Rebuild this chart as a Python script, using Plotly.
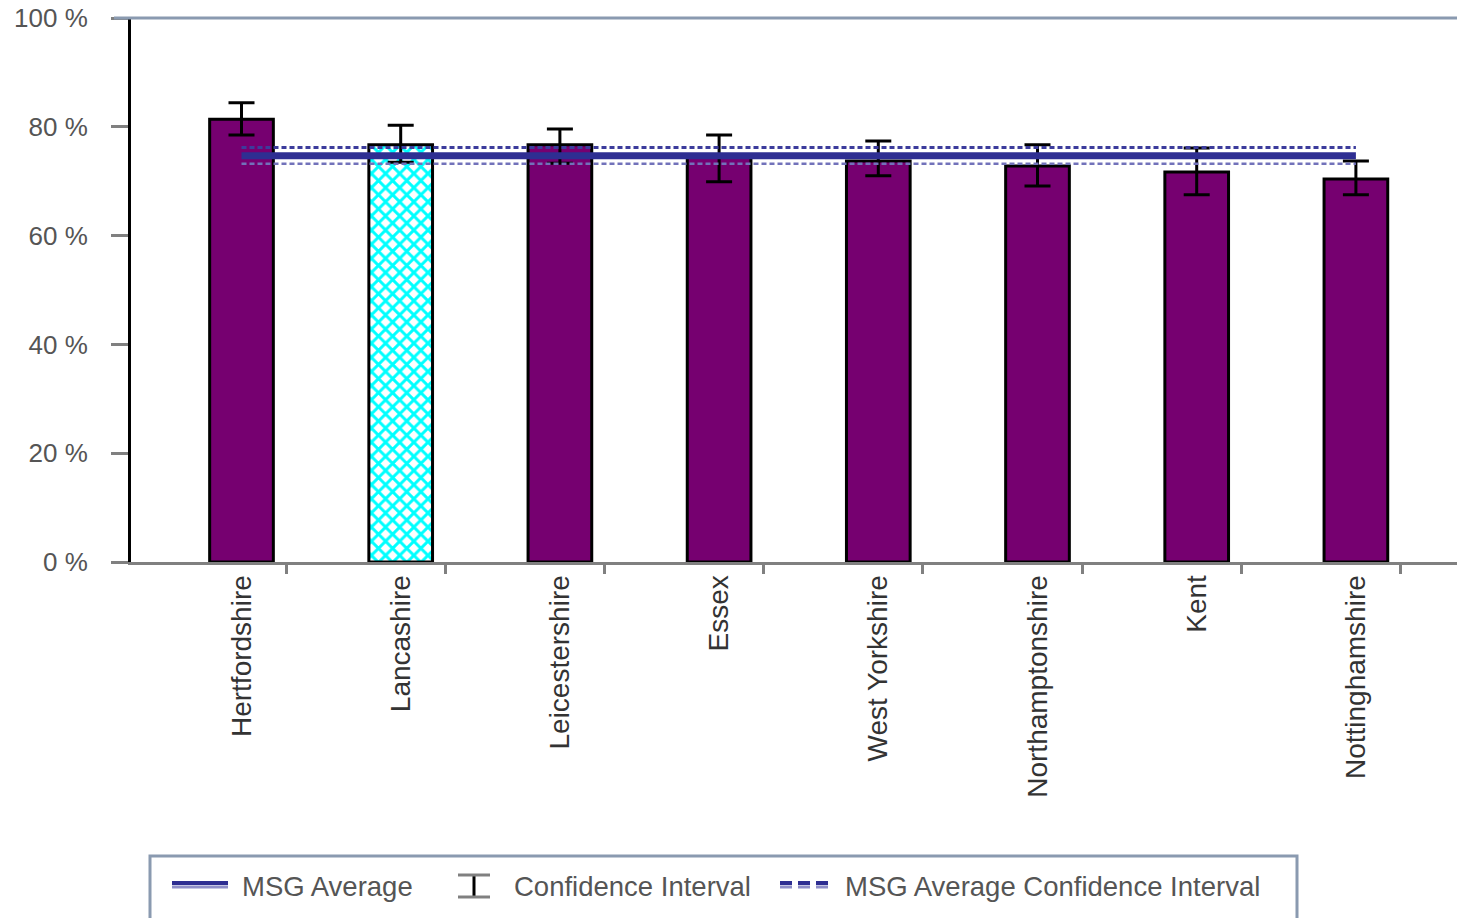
import plotly.graph_objects as go

# ---------------- data ----------------
categories = ["Hertfordshire", "Lancashire", "Leicestershire", "Essex",
              "West Yorkshire", "Northamptonshire", "Kent", "Nottinghamshire"]
values = [81.4, 76.7, 76.7, 74.6, 73.7, 72.8, 71.7, 70.4]
ci_upper = [84.4, 80.3, 79.6, 78.5, 77.4, 76.7, 76.1, 73.7]
ci_lower = [78.5, 73.5, 73.3, 69.9, 71.0, 69.1, 67.5, 67.5]
msg_average = 74.7
msg_avg_ci_upper = 76.2
msg_avg_ci_lower = 73.2
highlight = "Lancashire"
y_tick_vals = [0, 20, 40, 60, 80, 100]
y_tick_text = ["0 %", "20 %", "40 %", "60 %", "80 %", "100 %"]

# ---------------- layout geometry ----------------
W, H = 1457, 918
PL, PR, PT, PB = 131, 1457, 18, 562   # plot area in pixels
X0, DX = 241.5, 159.2                 # first category centre, px per category

def xp(px):
    return (px - PL) / (PR - PL)

def yp(py):
    return (PB - py) / (PB - PT)

pos = list(range(len(categories)))
x_range = [(PL - X0) / DX, (PR - X0) / DX]
boundaries = [p + 0.28 for p in pos]

PURPLE = "#760070"
NAVY = "#2E2E92"
LIGHT = "#8E8EC8"
FONT = "Liberation Sans, Arial, sans-serif"

fig = go.Figure()

colors = ["#00FFFF" if c == highlight else PURPLE for c in categories]
pattern_shapes = ["x" if c == highlight else "" for c in categories]

fig.add_trace(go.Bar(
    x=pos, y=values, width=0.4,
    marker=dict(color=colors,
                line=dict(color="black", width=3),
                pattern=dict(shape=pattern_shapes, fgcolor="#006060",
                             bgcolor="#00FFFF", size=10, solidity=0.5,
                             fillmode="replace")),
    error_y=dict(type="data", symmetric=False,
                 array=[u - v for u, v in zip(ci_upper, values)],
                 arrayminus=[v - l for v, l in zip(values, ci_lower)],
                 color="black", thickness=3, width=13),
    showlegend=False, hoverinfo="skip",
))

# MSG average confidence interval (dashed)
fig.add_trace(go.Scatter(
    x=pos, y=[msg_avg_ci_upper] * len(pos), mode="lines",
    line=dict(color="#3C3C9C", width=3, dash="5px,3px"),
    showlegend=False, hoverinfo="skip"))
fig.add_trace(go.Scatter(
    x=pos, y=[msg_avg_ci_lower] * len(pos), mode="lines",
    line=dict(color="#7272BA", width=2.5, dash="5px,3px"),
    showlegend=False, hoverinfo="skip"))
# MSG average (solid)
fig.add_trace(go.Scatter(
    x=pos, y=[msg_average] * len(pos), mode="lines",
    line=dict(color=NAVY, width=7),
    showlegend=False, hoverinfo="skip"))

fig.update_layout(
    width=W, height=H,
    margin=dict(l=PL, r=W - PR, t=PT, b=H - PB, pad=0),
    paper_bgcolor="white", plot_bgcolor="white",
    font=dict(family=FONT, size=26, color="#444"),
    showlegend=False,
    bargap=0,
)

fig.update_xaxes(
    type="linear", range=x_range,
    tickvals=pos, ticktext=categories, tickangle=-90,
    ticks="", ticklabelstandoff=-1,
    tickfont=dict(family=FONT, size=28, color="#333"),
    showgrid=False, zeroline=False,
    showline=True, linecolor="#808080", linewidth=3,
    minor=dict(tickvals=boundaries, ticks="outside", ticklen=9,
               tickwidth=3, tickcolor="#808080", showgrid=False),
)
fig.update_yaxes(
    range=[0, 100], tickvals=y_tick_vals, ticktext=y_tick_text,
    ticks="outside", ticklen=17, tickwidth=3, tickcolor="#808080",
    ticklabelstandoff=18,
    tickfont=dict(family=FONT, size=26, color="#555"),
    showgrid=False, zeroline=False,
    showline=True, linecolor="black", linewidth=3,
)

shapes = []
# top border of plot area
shapes.append(dict(type="line", xref="paper", yref="paper",
                   x0=xp(PL - 17), x1=1.0, y0=1, y1=1,
                   line=dict(color="#8A9AB0", width=3)))
# legend box
shapes.append(dict(type="rect", xref="paper", yref="paper",
                   x0=xp(150), x1=xp(1297), y0=yp(856), y1=yp(935),
                   line=dict(color="#8A9AB0", width=3), fillcolor="white"))
# legend: MSG Average sample
shapes.append(dict(type="line", xref="paper", yref="paper",
                   x0=xp(172), x1=xp(228), y0=yp(883), y1=yp(883),
                   line=dict(color=NAVY, width=4)))
shapes.append(dict(type="line", xref="paper", yref="paper",
                   x0=xp(172), x1=xp(228), y0=yp(887), y1=yp(887),
                   line=dict(color=LIGHT, width=3)))
# legend: confidence interval I-beam
shapes.append(dict(type="line", xref="paper", yref="paper",
                   x0=xp(474), x1=xp(474), y0=yp(875), y1=yp(897),
                   line=dict(color="black", width=3)))
for yy in (875, 897):
    shapes.append(dict(type="line", xref="paper", yref="paper",
                       x0=xp(458), x1=xp(490), y0=yp(yy), y1=yp(yy),
                       line=dict(color="#808080", width=3)))
# legend: dashed sample
shapes.append(dict(type="line", xref="paper", yref="paper",
                   x0=xp(780), x1=xp(832), y0=yp(883), y1=yp(883),
                   line=dict(color=NAVY, width=4, dash="12px,6px")))
shapes.append(dict(type="line", xref="paper", yref="paper",
                   x0=xp(780), x1=xp(832), y0=yp(887), y1=yp(887),
                   line=dict(color=LIGHT, width=3, dash="12px,6px")))
fig.update_layout(shapes=shapes)

legend_labels = [("MSG Average", 240), ("Confidence Interval", 512),
                 ("MSG Average Confidence Interval", 843)]
for text, px in legend_labels:
    fig.add_annotation(xref="paper", yref="paper", x=xp(px), y=yp(886),
                       xanchor="left", yanchor="middle", showarrow=False,
                       text=text, font=dict(family=FONT, size=27.5, color="#555"))

fig.write_html("out.html",
               config={"displayModeBar": False, "staticPlot": True},
               post_script="document.body.style.margin='0px';"
                           "document.body.style.overflow='hidden';")
